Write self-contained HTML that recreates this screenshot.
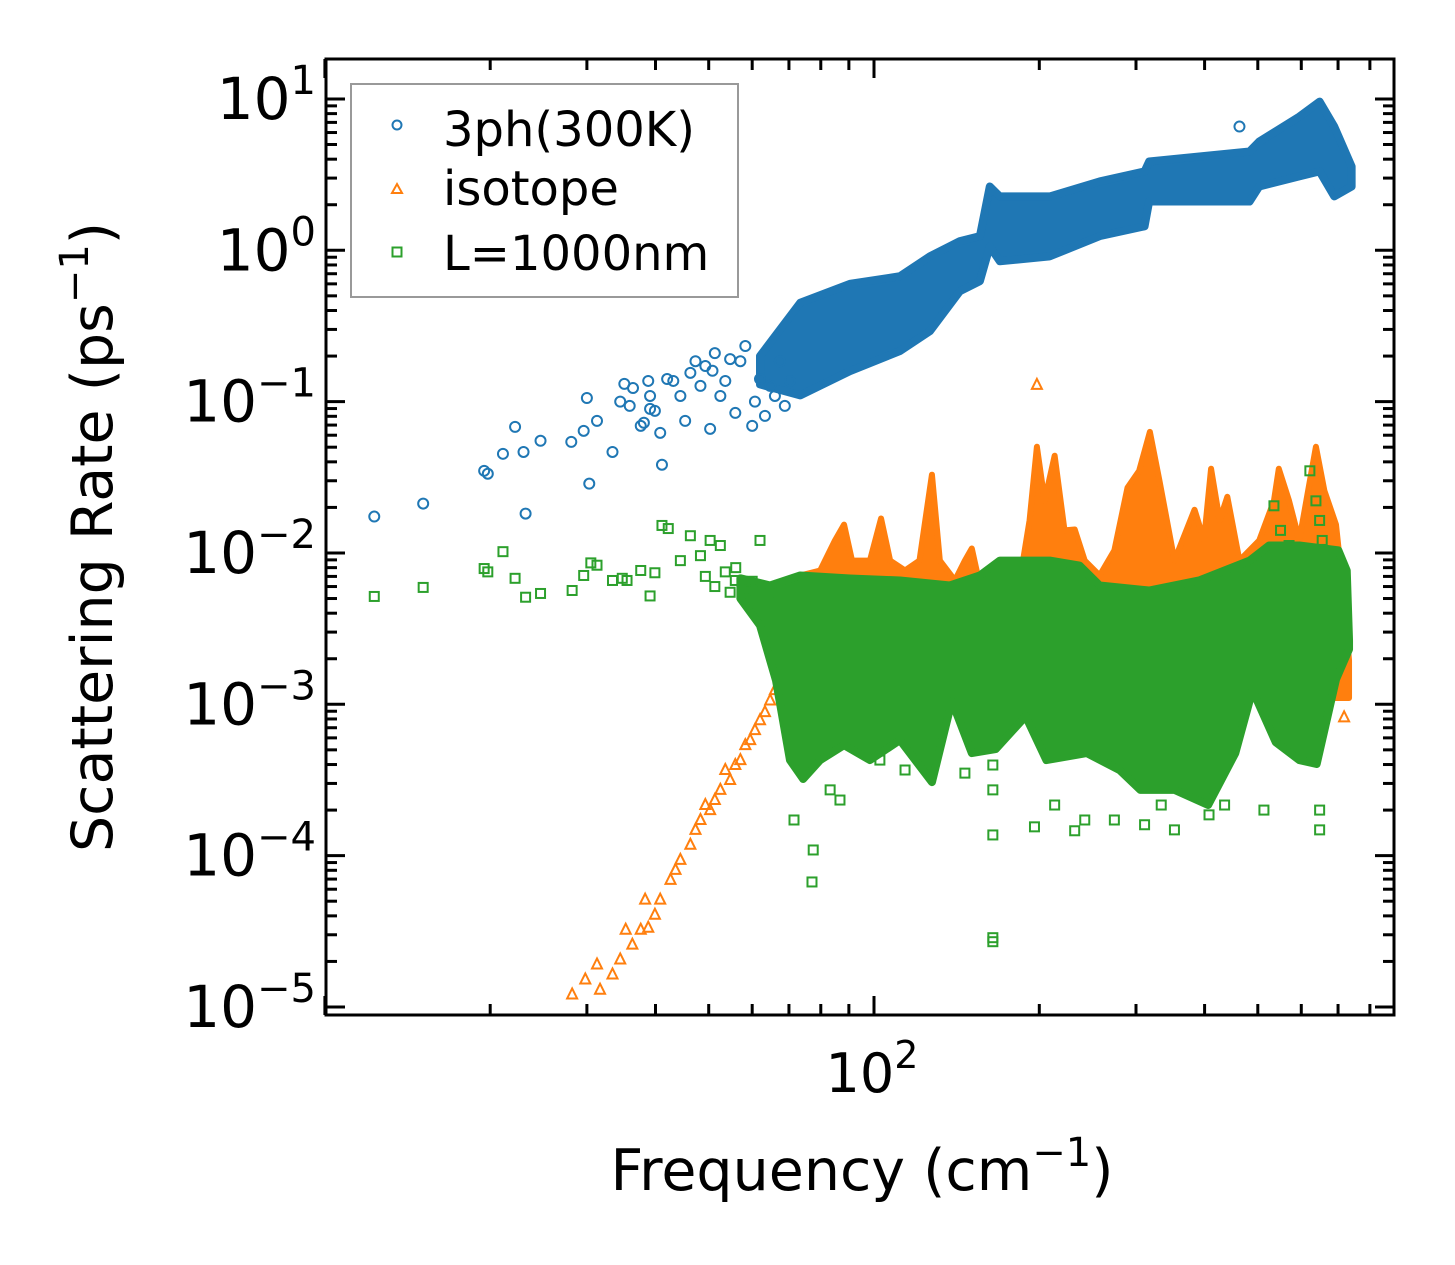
<!DOCTYPE html>
<html><head><meta charset="utf-8"><style>
html,body{margin:0;padding:0;background:#fff;}
svg{display:block;font-family:"DejaVu Sans","Liberation Sans",sans-serif;}
</style></head><body>
<svg id="chart" width="1455" height="1265" viewBox="0 0 1455 1265" xmlns="http://www.w3.org/2000/svg">
<rect width="1455" height="1265" fill="#fff"/>
<defs><clipPath id="clip"><rect x="326" y="59" width="1068" height="956"/></clipPath></defs>
<g id="marks" clip-path="url(#clip)"></g>
<g id="axes"></g>
<g id="legend">
  <rect x="351" y="84" width="387" height="213" fill="#fff" stroke="#999" stroke-width="2"/>
  <circle cx="397" cy="125" r="4.5" fill="none" stroke="#1f77b4" stroke-width="2"/>
  <text x="443" y="146" font-size="48">3ph(300K)</text>
  <path d="M397,184 L402,193 L392,193 Z" fill="none" stroke="#ff7f0e" stroke-width="2"/>
  <text x="443" y="205" font-size="48">isotope</text>
  <rect x="392.5" y="247.5" width="9" height="9" fill="none" stroke="#2ca02c" stroke-width="2"/>
  <text x="443" y="270" font-size="48">L=1000nm</text>
</g>
<text x="862" y="1190" font-size="57" text-anchor="middle">Frequency (cm<tspan font-size="40" dy="-24">−1</tspan><tspan dy="24">)</tspan></text>
<text transform="translate(112,537) rotate(-90)" font-size="57" text-anchor="middle">Scattering Rate (ps<tspan font-size="40" dy="-24">−1</tspan><tspan dy="24">)</tspan></text>
</svg>
<script>
// ---- data ----
const blueF = [12.3,15.1,19.5,19.8,21.1,22.2,23.2,23.0,24.7,28.1,30.0,29.6,30.3,31.3,33.4,34.5,35.1,35.9,36.4,37.6,38.1,39.1,39.1,38.8,39.9,41.1,40.8,42.0,43.1,44.4,45.3,46.3,47.3,48.3,49.3,50.3,50.8,51.3,52.5,53.6,54.7,55.9,57.1,58.3,60.0,60.7,62.0,63.3,64.7,66.0,67.4,68.8,70.3,463];
const blueR = [0.0174,0.0212,0.0349,0.0334,0.0452,0.0681,0.0182,0.0465,0.0551,0.0542,0.1057,0.0641,0.0287,0.0746,0.0465,0.1,0.131,0.0937,0.123,0.0692,0.0725,0.0895,0.109,0.137,0.0869,0.0383,0.0622,0.141,0.137,0.109,0.0746,0.155,0.185,0.127,0.172,0.0661,0.16,0.209,0.109,0.137,0.191,0.0842,0.185,0.233,0.0692,0.1,0.141,0.0805,0.127,0.109,0.185,0.0937,0.137,6.57];
const blueBandF = [62.0,73.4,90.4,111.5,126.4,143.4,155.9,162.5,169.5,209,257.6,311,317,483,503,595,648,689,741];
const blueBandTop = [0.2,0.45,0.6,0.674,0.912,1.15,1.24,2.64,2.27,2.27,2.85,3.32,3.86,4.5,5.23,7.64,9.6,6.57,3.58];
const blueBandBot = [0.13,0.11,0.159,0.216,0.292,0.537,0.625,1.06,0.846,0.912,1.24,1.44,2.10,2.10,2.64,3.08,3.32,2.27,2.64];

const isoF = [28.2,29.8,31.3,31.7,33.4,34.5,35.3,36.3,37.6,38.3,38.8,39.9,40.8,42.6,43.5,44.4,46.3,47.3,48.3,49.3,50.3,51.3,52.5,53.6,54.7,55.9,57.1,58.3,59.5,60.7,62.0,63.3,64.7,66.0,67.4,198,718];
const isoR = [1.21e-5,1.52e-5,1.91e-5,1.30e-5,1.64e-5,2.06e-5,3.24e-5,2.58e-5,3.24e-5,5.12e-5,3.34e-5,4.07e-5,5.12e-5,6.92e-5,8.05e-5,9.37e-5,1.18e-4,1.48e-4,1.72e-4,2.16e-4,2.0e-4,2.33e-4,2.72e-4,3.68e-4,3.16e-4,3.97e-4,4.28e-4,5.37e-4,5.8e-4,6.75e-4,7.85e-4,8.87e-4,1.06e-3,1.24e-3,1.44e-3,0.129,8.2e-4];
const isoBandF = [68.8,70.3,73.4,79.8,84.9,88.2,91.2,98.3,103,107,113.9,121,127.5,131.8,140.4,146.4,150.7,155.9,169.5,184.3,192,198,204.5,213.3,222.3,232,242,257.6,274,289.5,304,318,331,352.5,383.5,399,411,426,440,463,503,535,546,570,595,638,661,694,718,733];
const isoBandTop = [1.95e-3,5.65e-3,7.1e-3,7.66e-3,0.0121,0.0154,8.9e-3,8.9e-3,0.0169,8.9e-3,7.66e-3,8.9e-3,0.0329,8.9e-3,6.58e-3,8.9e-3,0.0107,6.1e-3,5.65e-3,6.58e-3,0.0164,0.0503,0.0221,0.0439,0.0141,0.0143,8.9e-3,7.1e-3,0.0104,0.027,0.0349,0.0631,0.03,8.9e-3,0.0193,0.0121,0.036,0.0164,0.0235,8.9e-3,0.0121,0.0221,0.036,0.0221,0.0121,0.0503,0.0258,0.0154,4.85e-3,1.95e-3];
const isoBandFloor = 1.1e-3;

const bndF = [12.3,15.1,19.5,19.8,21.1,22.2,23.2,24.7,28.2,29.6,30.5,31.3,33.4,34.8,35.5,37.6,39.1,39.9,41.1,42.2,44.4,46.3,48.3,50.3,52.5,55.9,58.3,62.0,64.7,67.4,71.5,77.1,77.5,83.2,86.7,102.5,113.9,126.4,146.4,164.6,164.6,164.6,164.6,164.6,196,213.3,232,242,274,311,333.5,352.5,407.5,435,513,648,648,550,570,622,638,648,655,535,49.3,51.3,53.6,54.7,56.0,60.0];
const bndR = [5.16e-3,5.92e-3,7.89e-3,7.5e-3,0.0102,6.8e-3,5.1e-3,5.4e-3,5.65e-3,7.1e-3,8.6e-3,8.3e-3,6.58e-3,6.8e-3,6.58e-3,7.66e-3,5.2e-3,7.4e-3,0.0152,0.0145,8.9e-3,0.013,9.6e-3,0.0121,0.0112,6.58e-3,5.65e-3,0.0121,4.85e-3,6.1e-3,1.72e-4,6.7e-5,1.09e-4,2.72e-4,2.33e-4,4.28e-4,3.68e-4,3.68e-4,3.51e-4,3.97e-4,2.72e-4,1.37e-4,2.87e-5,2.7e-5,1.55e-4,2.16e-4,1.46e-4,1.72e-4,1.72e-4,1.6e-4,2.16e-4,1.48e-4,1.86e-4,2.16e-4,2.0e-4,1.48e-4,2.0e-4,0.0141,0.0112,0.0349,0.0221,0.0164,0.0121,0.0205,7.0e-3,6.0e-3,7.5e-3,5.5e-3,8.0e-3,6.5e-3];
const bndTopF = [57.1,64.7,73.4,90.4,111.5,137.5,155.9,169.5,209,236.7,257.6,317,391,483,524,595,701,726,733];
const bndTopR = [6.8e-3,6.1e-3,7.1e-3,6.78e-3,6.58e-3,6.1e-3,7.1e-3,8.9e-3,8.9e-3,8.26e-3,6.1e-3,5.65e-3,6.58e-3,8.9e-3,0.0112,0.0112,0.0104,7.66e-3,2.65e-3];
const bndBotF = [57.1,62.0,66.3,70.3,74.3,79.8,88.2,98.3,111.5,127.5,138.6,150.7,166.6,188.9,206,244,280,305.5,352.5,406,455,489,539,595,640,694,733];
const bndBotR = [5.0e-3,3.32e-3,1.44e-3,4.28e-4,3.21e-4,4.28e-4,5.37e-4,4.28e-4,5.8e-4,3.06e-4,1.05e-3,4.76e-4,5.06e-4,8.35e-4,4.28e-4,4.76e-4,3.68e-4,2.72e-4,2.72e-4,2.16e-4,4.76e-4,1.24e-3,5.62e-4,4.28e-4,4.03e-4,1.46e-3,2.31e-3];

const yTickExps = [1,0,-1,-2,-3,-4,-5];
const xTickExps = [2];

// ---- axes ----
const X0=326, X1=1394, Y0=59, Y1=1015;
const LX0=1.002, LX1=2.947;
const LY0=-5.053, LY1=1.264;
function xs(f){return X0+(Math.log10(f)-LX0)/(LX1-LX0)*(X1-X0);}
function ys(r){return Y1-(Math.log10(r)-LY0)/(LY1-LY0)*(Y1-Y0);}

const NS="http://www.w3.org/2000/svg";
const marks=document.getElementById('marks');
const axes=document.getElementById('axes');
function mk(tag,attrs,parent){const e=document.createElementNS(NS,tag);for(const k in attrs)e.setAttribute(k,attrs[k]);parent.appendChild(e);return e;}

const C1="#1f77b4", C2="#ff7f0e", C3="#2ca02c";

let d="M"+xs(isoBandF[0])+","+ys(isoBandFloor);
for(let i=0;i<isoBandF.length;i++) d+=" L"+xs(isoBandF[i])+","+ys(isoBandTop[i]);
d+=" L"+xs(isoBandF[isoBandF.length-1])+","+ys(isoBandFloor)+" Z";
const isoBand=mk('path',{d:d,fill:C2,stroke:C2,'stroke-width':6,'stroke-linejoin':'round'},marks);



for(let i=0;i<isoF.length;i++){
  const x=xs(isoF[i]), y=ys(isoR[i]);
  const t=mk('path',{d:`M${x},${y-6} L${x+5},${y+4} L${x-5},${y+4} Z`,fill:'none',stroke:C2,'stroke-width':2},marks);
  
  
}

d="M"+xs(bndTopF[0])+","+ys(bndTopR[0]);
for(let i=1;i<bndTopF.length;i++) d+=" L"+xs(bndTopF[i])+","+ys(bndTopR[i]);
for(let i=bndBotF.length-1;i>=0;i--) d+=" L"+xs(bndBotF[i])+","+ys(bndBotR[i]);
d+=" Z";
const bBand=mk('path',{d:d,fill:C3,stroke:C3,'stroke-width':8,'stroke-linejoin':'round'},marks);



for(let i=0;i<bndF.length;i++){
  const x=xs(bndF[i]), y=ys(bndR[i]);
  const s=mk('rect',{x:x-4.5,y:y-4.5,width:9,height:9,fill:'none',stroke:C3,'stroke-width':2},marks);
  
  
}

d="M"+xs(blueBandF[0])+","+ys(blueBandTop[0]);
for(let i=1;i<blueBandF.length;i++) d+=" L"+xs(blueBandF[i])+","+ys(blueBandTop[i]);
for(let i=blueBandF.length-1;i>=0;i--) d+=" L"+xs(blueBandF[i])+","+ys(blueBandBot[i]);
d+=" Z";
const blBand=mk('path',{d:d,fill:C1,stroke:C1,'stroke-width':8,'stroke-linejoin':'round'},marks);



for(let i=0;i<blueF.length;i++){
  const c=mk('circle',{cx:xs(blueF[i]),cy:ys(blueR[i]),r:5,fill:'none',stroke:C1,'stroke-width':2},marks);
  
  
}

const frame=mk('rect',{x:X0,y:Y0,width:X1-X0,height:Y1-Y0,fill:'none',stroke:'#000','stroke-width':3},axes);



for(let e=-5;e<=1;e++){
  for(let m=1;m<10;m++){
    const v=m*Math.pow(10,e); const lv=Math.log10(v);
    if(lv<LY0||lv>LY1) continue;
    const y=ys(v), L=(m===1)?19:11;
    const t1=mk('line',{x1:X0,y1:y,x2:X0+L,y2:y,stroke:'#000','stroke-width':3},axes);
    
    
    const t2=mk('line',{x1:X1,y1:y,x2:X1-L,y2:y,stroke:'#000','stroke-width':3},axes);
    
    
  }
}
yTickExps.forEach(e=>{
  const y=ys(Math.pow(10,e));
  const t=mk('text',{x:316,y:y+20,'font-size':58,'text-anchor':'end'},axes);
  
  
  const exp=(e<0?'\u2212':'')+Math.abs(e);
  t.innerHTML='10<tspan font-size="40" dy="-25">'+exp+'</tspan>';
});
for(let e=1;e<=2;e++){
  for(let m=1;m<10;m++){
    const v=m*Math.pow(10,e); const lv=Math.log10(v);
    if(lv<LX0-0.003||lv>LX1) continue;
    const x=xs(v), L=(m===1)?19:11;
    const t1=mk('line',{x1:x,y1:Y1,x2:x,y2:Y1-L,stroke:'#000','stroke-width':3},axes);
    
    
    const t2=mk('line',{x1:x,y1:Y0,x2:x,y2:Y0+L,stroke:'#000','stroke-width':3},axes);
    
    
  }
}
xTickExps.forEach(e=>{
  const x=xs(Math.pow(10,e));
  const t=mk('text',{x:x-2,y:1092,'font-size':54,'text-anchor':'middle'},axes);
  
  
  t.innerHTML='10<tspan font-size="38" dy="-24">'+e+'</tspan>';
});
</script>
</body></html>
